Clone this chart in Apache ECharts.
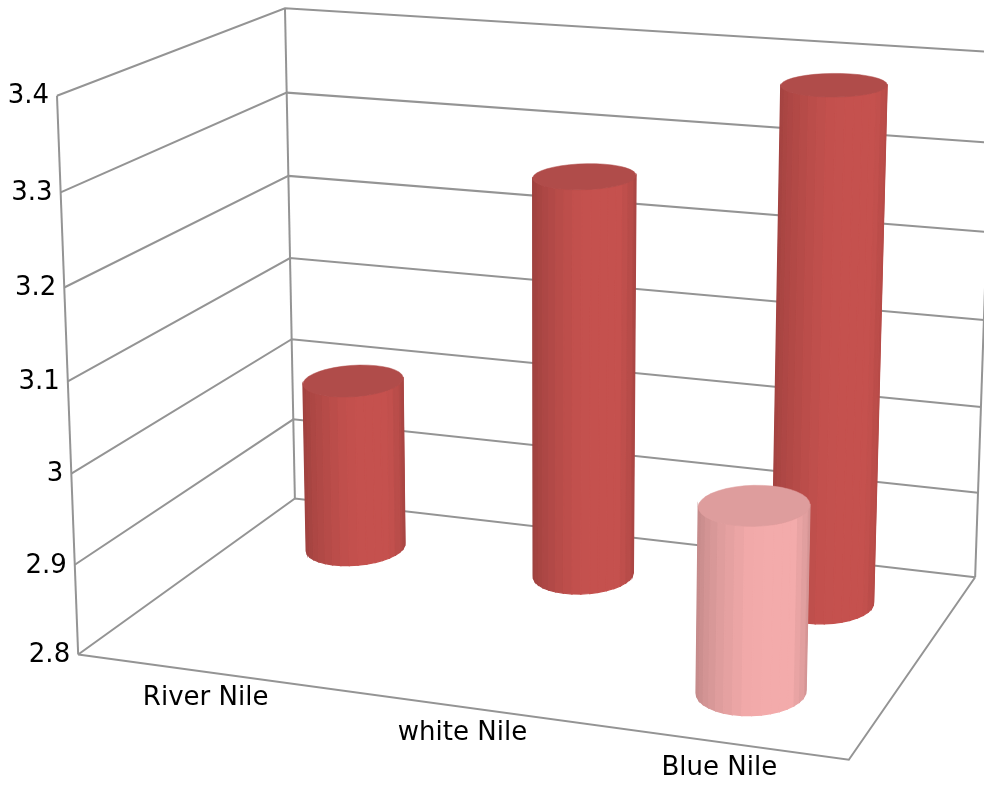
<!DOCTYPE html>
<html>
<head>
<meta charset="utf-8">
<style>html,body{margin:0;padding:0;background:#fff}#chart{width:984px;height:785px}</style>
<script src="https://cdn.jsdelivr.net/npm/echarts@6/dist/echarts.min.js"></script>
</head>
<body>
<div id="chart"></div>
<script>
// Chart values
const categories = ['River Nile', 'white Nile', 'Blue Nile'];
const valueTicks = [2.8, 2.9, 3.0, 3.1, 3.2, 3.3, 3.4];
const tickLabels = ['2.8', '2.9', '3', '3.1', '3.2', '3.3', '3.4'];
const backRow = [3.0, 3.26, 3.38];
const frontRow = [null, null, 3.0];

// Box corners as (across, depth, height) in unit space and where they land on the page.
const BOX_ANCHORS = [
  [[0, 0, 0], [78, 654]], [[1, 0, 0], [849, 760]],
  [[0, 1, 0], [295, 499]], [[1, 1, 0], [975, 577]],
  [[0, 0, 1], [57, 96]], [[0, 1, 1], [285, 8]], [[1, 1, 1], [993, 52]]
];

// Least-squares fit of a projective camera to the anchors.
function fitCamera(anchors) {
  const n = 11, A = [], b = [];
  anchors.forEach(([[X, Y, Z], [x, y]]) => {
    A.push([X, Y, Z, 1, 0, 0, 0, 0, -x * X, -x * Y, -x * Z]); b.push(x);
    A.push([0, 0, 0, 0, X, Y, Z, 1, -y * X, -y * Y, -y * Z]); b.push(y);
  });
  const M = [];
  for (let i = 0; i < n; i++) {
    M.push([]);
    for (let j = 0; j <= n; j++) {
      let s = 0;
      for (let r = 0; r < A.length; r++) s += A[r][i] * (j < n ? A[r][j] : b[r]);
      M[i].push(s);
    }
  }
  for (let c = 0; c < n; c++) {
    let p = c;
    for (let r = c + 1; r < n; r++) if (Math.abs(M[r][c]) > Math.abs(M[p][c])) p = r;
    [M[c], M[p]] = [M[p], M[c]];
    for (let r = 0; r < n; r++) {
      if (r === c) continue;
      const f = M[r][c] / M[c][c];
      for (let j = c; j <= n; j++) M[r][j] -= f * M[c][j];
    }
  }
  return M.map((row, i) => row[n] / row[i]);
}
const cam = fitCamera(BOX_ANCHORS);
function project(u, v, w) {
  const d = cam[8] * u + cam[9] * v + cam[10] * w + 1;
  return [
    (cam[0] * u + cam[1] * v + cam[2] * w + cam[3]) / d,
    (cam[4] * u + cam[5] * v + cam[6] * w + cam[7]) / d
  ];
}

// Flat grid coordinates from the axes become unit-box coordinates.
function toUnit(params, api, catIndex, value) {
  const p = api.coord([catIndex, value]);
  const g = params.coordSys;
  return [(p[0] - g.x) / g.width, (g.y + g.height - p[1]) / g.height];
}

const LINE = { stroke: '#949494', lineWidth: 2, fill: null };
const FONT = 'DejaVu Sans';

function renderWalls(params, api) {
  const value = api.value(1);
  const [, w] = toUnit(params, api, 0, value);
  const corner = project(0, 0, w), back = project(0, 1, w), right = project(1, 1, w);
  const kids = [
    { type: 'polyline', shape: { points: [corner, back, right] }, style: LINE, silent: true },
    { type: 'text', style: {
      text: tickLabels[params.dataIndex], x: corner[0] - 8, y: corner[1] + 1,
      align: 'right', verticalAlign: 'middle', fill: '#000', font: '26px ' + FONT } }
  ];
  if (params.dataIndex === 0) {
    const b = (a, c) => ({ type: 'polyline', shape: { points: [a, c] }, style: LINE, silent: true });
    kids.push(b(project(0, 0, 0), project(0, 0, 1)));
    kids.push(b(project(0, 1, 0), project(0, 1, 1)));
    kids.push(b(project(1, 1, 0), project(1, 1, 1)));
    kids.push({ type: 'polyline', shape: { points: [project(0, 0, 0), project(1, 0, 0), project(1, 1, 0)] }, style: LINE, silent: true });
  }
  return { type: 'group', children: kids };
}

// Category names sit evenly along the front floor edge.
function renderCategoryLabel(params, api) {
  const [u] = toUnit(params, api, api.value(0), valueTicks[0]);
  const a = project(0, 0, 0), c = project(1, 0, 0);
  return { type: 'text', style: {
    text: categories[params.dataIndex],
    x: a[0] + (c[0] - a[0]) * u - 1, y: a[1] + (c[1] - a[1]) * u + 26,
    align: 'center', verticalAlign: 'middle', fill: '#000', font: '26px ' + FONT } };
}

const RADIUS_U = 0.066, RADIUS_V = 0.12, FACETS = 36;
// Brightness across the visible width of a cylinder.
const SHADE_STOPS = [[0, 0.80], [0.1, 0.87], [0.28, 0.94], [0.45, 0.99], [0.6, 1], [0.85, 1], [0.95, 0.92], [1, 0.84]];
function shadeAt(t) {
  for (let i = 1; i < SHADE_STOPS.length; i++) {
    const [a, p] = SHADE_STOPS[i - 1], [b, q] = SHADE_STOPS[i];
    if (t <= b) return p + (q - p) * (t - a) / (b - a);
  }
  return 1;
}
function scaleColor(rgb, k) {
  return 'rgb(' + rgb.map(c => Math.round(c * k)).join(',') + ')';
}
function signedArea(pts) {
  let s = 0;
  pts.forEach((p, i) => {
    const q = pts[(i + 1) % pts.length];
    s += p[0] * q[1] - q[0] * p[1];
  });
  return s / 2;
}

function cylinderRenderer(depth, rgb, capRgb) {
  return function (params, api) {
    const i = api.value(0), value = api.value(1);
    const [u, w] = toUnit(params, api, i, value);
    const ring = h => {
      const pts = [];
      for (let k = 0; k < FACETS; k++) {
        const t = k / FACETS * Math.PI * 2;
        pts.push(project(u + RADIUS_U * Math.cos(t), depth + RADIUS_V * Math.sin(t), h));
      }
      return pts;
    };
    const low = ring(0), high = ring(w);
    const xs = low.concat(high).map(p => p[0]);
    const xMin = Math.min(...xs), xMax = Math.max(...xs);
    const kids = [];
    // Camera-facing facets only, one flat-shaded strip each.
    for (let k = 0; k < FACETS; k++) {
      const m = (k + 1) % FACETS;
      const quad = [low[k], low[m], high[m], high[k]];
      if (signedArea(quad) > 0) continue;
      const mid = (low[k][0] + low[m][0] + high[k][0] + high[m][0]) / 4;
      const color = scaleColor(rgb, shadeAt((mid - xMin) / (xMax - xMin)));
      kids.push({
        type: 'polygon', shape: { points: quad },
        style: { fill: color, stroke: color, lineWidth: 1.2 }
      });
    }
    kids.push({
      type: 'polygon', shape: { points: high },
      style: { fill: scaleColor(capRgb, 1), stroke: scaleColor(capRgb, 1), lineWidth: 0.5 }
    });
    return { type: 'group', children: kids };
  };
}

const seriesPoints = arr => arr.map((v, i) => [i, v]).filter(d => d[1] !== null);
const chart = echarts.init(document.getElementById('chart'));
chart.setOption({
  animation: false,
  backgroundColor: '#fff',
  grid: { left: 0, right: 0, top: 0, bottom: 0 },
  xAxis: { type: 'category', data: categories, show: false },
  yAxis: { type: 'value', min: 2.8, max: 3.4, interval: 0.1, show: false },
  series: [
    { type: 'custom', clip: false, silent: true, z: 1, renderItem: renderWalls,
      data: valueTicks.map(v => [0, v]) },
    { type: 'custom', clip: false, silent: true, z: 2, renderItem: renderCategoryLabel,
      data: categories.map((c, i) => [i, valueTicks[0]]) },
    { type: 'custom', name: 'Back row', clip: false, silent: true, z: 3,
      renderItem: cylinderRenderer(0.75, [197, 81, 78], [176, 76, 74]),
      data: seriesPoints(backRow) },
    { type: 'custom', name: 'Front row', clip: false, silent: true, z: 4,
      renderItem: cylinderRenderer(0.25, [243, 171, 171], [222, 157, 157]),
      data: seriesPoints(frontRow) }
  ]
});
</script>
</body>
</html>
